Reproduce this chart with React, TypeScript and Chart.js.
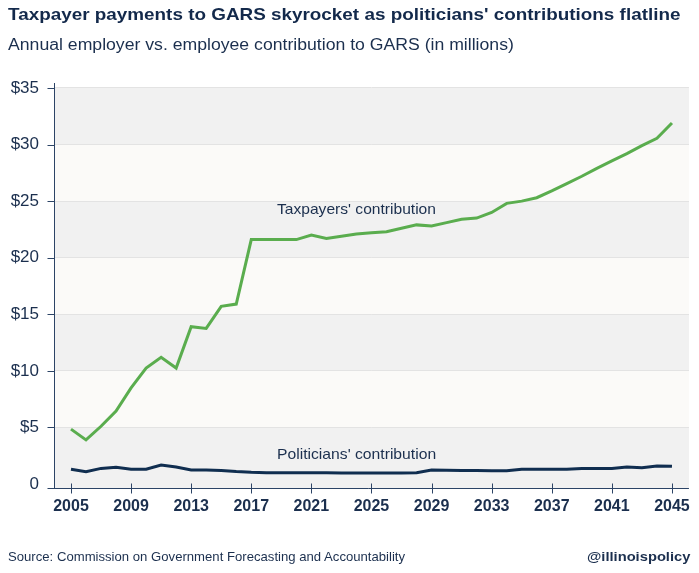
import React, { useEffect, useLayoutEffect, useRef, useState } from 'react';
import { Chart, registerables } from 'chart.js';

Chart.register(...registerables);

const FONT = '"Helvetica Neue", Helvetica, "Liberation Sans", Arial, sans-serif';
const NAVY_TEXT = '#1b2f4e';
const TITLE_COLOR = '#13294b';
const GREEN = '#5aad4e';
const NAVY_LINE = '#102e50';
const AXIS = '#2c4466';
const BAND_DARK = '#f1f1f1';
const BAND_LIGHT = '#fbfaf8';
const GRID = '#e3e3e3';

const years = [
  2005, 2006, 2007, 2008, 2009, 2010, 2011, 2012, 2013, 2014,
  2015, 2016, 2017, 2018, 2019, 2020, 2021, 2022, 2023, 2024,
  2025, 2026, 2027, 2028, 2029, 2030, 2031, 2032, 2033, 2034,
  2035, 2036, 2037, 2038, 2039, 2040, 2041, 2042, 2043, 2044, 2045,
];

const taxpayers = [
  4.85, 3.9, 5.1, 6.45, 8.5, 10.25, 11.2, 10.25, 13.9, 13.75,
  15.7, 15.9, 21.6, 21.6, 21.6, 21.6, 22.0, 21.7, 21.9, 22.1,
  22.2, 22.3, 22.6, 22.9, 22.8, 23.1, 23.4, 23.5, 24.0, 24.8,
  25.0, 25.3, 25.9, 26.55, 27.2, 27.9, 28.55, 29.2, 29.9, 30.55, 31.9,
];

const politicians = [
  1.3, 1.08, 1.38, 1.47, 1.3, 1.3, 1.68, 1.5, 1.23, 1.23,
  1.2, 1.1, 1.03, 1.0, 1.0, 1.0, 1.0, 1.0, 0.98, 0.98,
  0.98, 0.98, 0.98, 1.0, 1.23, 1.22, 1.2, 1.2, 1.17, 1.17,
  1.3, 1.3, 1.3, 1.3, 1.38, 1.38, 1.38, 1.5, 1.44, 1.59, 1.56,
];

const xTickYears = [2005, 2009, 2013, 2017, 2021, 2025, 2029, 2033, 2037, 2041, 2045];
const yTickValues = [0, 5, 10, 15, 20, 25, 30, 35];

const X_MIN = 2003.87;
const X_MAX = 2046.13;
const Y_MIN = -0.354;
const Y_MAX = 35.44;

const bandsPlugin = {
  id: 'bands',
  beforeDraw(chart: any) {
    const { ctx, chartArea, scales } = chart;
    const y = scales.y;
    ctx.save();
    for (let i = 0; i < 7; i++) {
      const lo = i === 0 ? y.min : yTickValues[i];
      const hi = yTickValues[i + 1];
      const top = Math.round(y.getPixelForValue(hi));
      const bot = Math.round(y.getPixelForValue(lo));
      ctx.fillStyle = i % 2 === 0 ? BAND_DARK : BAND_LIGHT;
      ctx.fillRect(chartArea.left, top, chartArea.right - chartArea.left, bot - top);
    }
    ctx.restore();
  },
};

const axesPlugin = {
  id: 'axesLines',
  afterDatasetsDraw(chart: any) {
    const { ctx, chartArea, scales } = chart;
    const { left, right, top, bottom } = chartArea;
    const lx = Math.round(left) + 0.5;
    const by = Math.round(bottom) + 0.5;
    ctx.save();
    ctx.strokeStyle = AXIS;
    ctx.lineWidth = 1;
    ctx.beginPath();
    ctx.moveTo(lx, top);
    ctx.lineTo(lx, by);
    ctx.moveTo(lx - 7, by);
    ctx.lineTo(right, by);
    yTickValues.forEach((v) => {
      if (v === 0) return;
      const py = Math.round(scales.y.getPixelForValue(v)) + 0.5;
      ctx.moveTo(lx - 7, py);
      ctx.lineTo(lx, py);
    });
    xTickYears.forEach((yr) => {
      const px = Math.round(scales.x.getPixelForValue(yr)) + 0.5;
      ctx.moveTo(px, by - 5);
      ctx.lineTo(px, by + 5);
    });
    ctx.stroke();
    ctx.restore();
  },
};

function FitText(props: {
  text: string; x: number; y: number; w: number; size: number;
  weight?: string | number; color: string; align?: 'left' | 'right';
}) {
  const { text, x, y, w, size, weight = 'normal', color, align = 'left' } = props;
  const ref = useRef<HTMLSpanElement>(null);
  const [s, setS] = useState(1);
  useLayoutEffect(() => {
    if (ref.current) {
      const mw = ref.current.offsetWidth;
      if (mw > 0) setS(w / mw);
    }
  }, [text, w, size]);
  return (
    <div
      style={{
        position: 'absolute',
        left: align === 'left' ? x : undefined,
        right: align === 'right' ? 699 - x : undefined,
        top: y,
        whiteSpace: 'nowrap',
        lineHeight: size + 'px',
        fontSize: size,
        fontWeight: weight as any,
        color,
        fontFamily: FONT,
      }}
    >
      <span
        ref={ref}
        style={{
          display: 'inline-block',
          transform: `scaleX(${s})`,
          transformOrigin: align === 'left' ? 'left center' : 'right center',
        }}
      >
        {text}
      </span>
    </div>
  );
}

export default function App() {
  const canvasRef = useRef<HTMLCanvasElement>(null);

  useEffect(() => {
    if (!canvasRef.current) return;
    const chart = new Chart(canvasRef.current, {
      type: 'line',
      data: {
        datasets: [
          {
            label: "Taxpayers' contribution",
            data: years.map((yr, i) => ({ x: yr, y: taxpayers[i] })),
            borderColor: GREEN,
            borderWidth: 3,
            pointRadius: 0,
            tension: 0,
            fill: false,
          },
          {
            label: "Politicians' contribution",
            data: years.map((yr, i) => ({ x: yr, y: politicians[i] })),
            borderColor: NAVY_LINE,
            borderWidth: 3,
            pointRadius: 0,
            tension: 0,
            fill: false,
          },
        ],
      },
      options: {
        animation: false,
        responsive: false,
        devicePixelRatio: 1,
        layout: { padding: { top: 83, right: 9, left: 0, bottom: 0 } },
        plugins: {
          legend: { display: false },
          tooltip: { enabled: false },
          title: { display: false },
        },
        scales: {
          x: {
            type: 'linear',
            min: X_MIN,
            max: X_MAX,
            afterBuildTicks: (s: any) => {
              s.ticks = xTickYears.map((v) => ({ value: v }));
            },
            afterFit: (s: any) => {
              s.height = 85;
            },
            grid: { display: false, drawTicks: false },
            border: { display: false },
            ticks: {
              padding: 9,
              autoSkip: false,
              maxRotation: 0,
              color: NAVY_TEXT,
              font: { size: 16, weight: 'bold', family: FONT },
              callback: (v: any) => String(v),
            },
          },
          y: {
            type: 'linear',
            min: Y_MIN,
            max: Y_MAX,
            afterBuildTicks: (s: any) => {
              s.ticks = yTickValues.map((v) => ({ value: v }));
            },
            afterFit: (s: any) => {
              s.width = 54;
            },
            grid: {
              drawTicks: false,
              color: (c: any) => (c.tick && c.tick.value === 0 ? 'rgba(0,0,0,0)' : GRID),
            },
            border: { display: false },
            ticks: {
              padding: 15,
              color: NAVY_TEXT,
              font: { size: 17, family: FONT },
              callback: (v: any) => (v === 0 ? '0' : '$' + v),
            },
          },
        },
      } as any,
      plugins: [bandsPlugin, axesPlugin],
    });
    return () => chart.destroy();
  }, []);

  return (
    <div
      style={{
        position: 'fixed',
        left: 0,
        top: 0,
        width: 699,
        height: 573,
        background: '#ffffff',
        overflow: 'hidden',
      }}
    >
      <canvas
        ref={canvasRef}
        width={699}
        height={573}
        style={{ position: 'absolute', left: 0, top: 0, width: 699, height: 573 }}
      />
      <FitText
        text="Taxpayer payments to GARS skyrocket as politicians' contributions flatline"
        x={8} y={6} w={673} size={17} weight="bold" color={TITLE_COLOR}
      />
      <FitText
        text="Annual employer vs. employee contribution to GARS (in millions)"
        x={8} y={36.5} w={506} size={16} color={NAVY_TEXT}
      />
      <FitText text="Taxpayers' contribution" x={277} y={201} w={159} size={15} color={NAVY_TEXT} />
      <FitText text="Politicians' contribution" x={277} y={446} w={159} size={15} color={NAVY_TEXT} />
      <FitText
        text="Source: Commission on Government Forecasting and Accountability"
        x={8} y={550} w={397} size={13} color={NAVY_TEXT}
      />
      <FitText
        text="@illinoispolicy"
        x={690} y={550} w={103} size={13} weight="bold" color={NAVY_TEXT} align="right"
      />
    </div>
  );
}
